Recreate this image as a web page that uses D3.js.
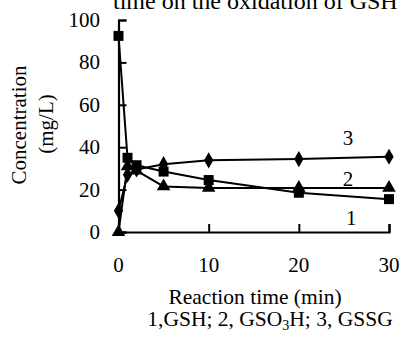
<!DOCTYPE html>
<html><head><meta charset="utf-8">
<script src="https://cdn.jsdelivr.net/npm/d3@7"></script>
<style>body{margin:0;background:#fff}svg{display:block}</style>
</head><body><svg id="c" width="402" height="340"></svg>
<script>
const times = [0, 1, 2, 5, 10, 20, 30];
const gsh = [92.5, 35, 31.5, 28.5, 24.5, 18.5, 15.5];
const gso3h = [0, 31, 29, 21.5, 20.8, 20.8, 20.8];
const gssg = [10, 27, 29.5, 32, 33.8, 34.4, 35.5];
const xTicks = [0, 10, 20, 30];
const yTicks = [0, 20, 40, 60, 80, 100];
const seriesLabels = ["1", "2", "3"];

const FONT = "'Liberation Serif', 'Times New Roman', serif";
const svg = d3.select("#c");
const x = d3.scaleLinear().domain([0, 30]).range([118.5, 389]);
const y = d3.scaleLinear().domain([0, 100]).range([232, 20]);

function txt(sel, size) { return sel.attr("font-family", FONT).attr("font-size", size).attr("fill", "#000"); }

txt(svg.append("text"), 24).attr("x", 113).attr("y", 8.5).text("time on the oxidation of GSH");

const yAxis = svg.append("g").attr("transform", `translate(${x(0)},0)`)
  .call(d3.axisRight(y).tickValues(yTicks).tickSize(8).tickFormat(""));
const xAxis = svg.append("g").attr("transform", `translate(0,${y(0)})`)
  .call(d3.axisTop(x).tickValues(xTicks).tickSize(8).tickFormat(""));
[yAxis, xAxis].forEach(g => { g.selectAll("path").attr("stroke", "#000").attr("stroke-width", 2.2);
  g.selectAll("line").attr("stroke", "#000").attr("stroke-width", 2); });

txt(svg.selectAll(".yl").data(yTicks).enter().append("text"), 21)
  .attr("x", 100).attr("y", d => y(d) + 7).attr("text-anchor", "end").text(d => d);
txt(svg.selectAll(".xl").data(xTicks).enter().append("text"), 21)
  .attr("x", d => x(d)).attr("y", 272).attr("text-anchor", "middle").text(d => d);

txt(svg.append("text"), 21).attr("transform", "translate(25.5,125) rotate(-90)").attr("text-anchor", "middle").text("Concentration");
txt(svg.append("text"), 21).attr("transform", "translate(52.5,124) rotate(-90)").attr("text-anchor", "middle").text("(mg/L)");

txt(svg.append("text"), 21.5).attr("x", 255).attr("y", 304).attr("text-anchor", "middle").text("Reaction time (min)");
const leg = txt(svg.append("text"), 21.5).attr("x", 270).attr("y", 326).attr("text-anchor", "middle");
leg.append("tspan").text("1,GSH; 2, GSO");
leg.append("tspan").attr("dy", 4).attr("font-size", 14).text("3");
leg.append("tspan").attr("dy", -4).text("H; 3, GSSG");

const line = d3.line().x((d, i) => x(times[i])).y(d => y(d));
const series = [
  {vals: gsh, sym: d3.symbolSquare, size: 100},
  {vals: gso3h, sym: d3.symbolTriangle, size: 80},
  {vals: gssg, sym: d3.symbolDiamond, size: 75}
];
series.forEach(s => {
  svg.append("path").attr("d", line(s.vals)).attr("fill", "none").attr("stroke", "#000").attr("stroke-width", 2);
});
series.forEach(s => {
  svg.selectAll(null).data(s.vals).enter().append("path")
    .attr("d", d3.symbol().type(s.sym).size(s.size))
    .attr("transform", (d, i) => `translate(${x(times[i])},${y(d)})`).attr("fill", "#000");
});

const labelPos = [{t: 25.8, v: 3.3}, {t: 25.45, v: 21.7}, {t: 25.45, v: 41}];
txt(svg.selectAll(".sl").data(seriesLabels).enter().append("text"), 21)
  .attr("x", (d, i) => x(labelPos[i].t)).attr("y", (d, i) => y(labelPos[i].v))
  .attr("text-anchor", "middle").text(d => d);
</script></body></html>
